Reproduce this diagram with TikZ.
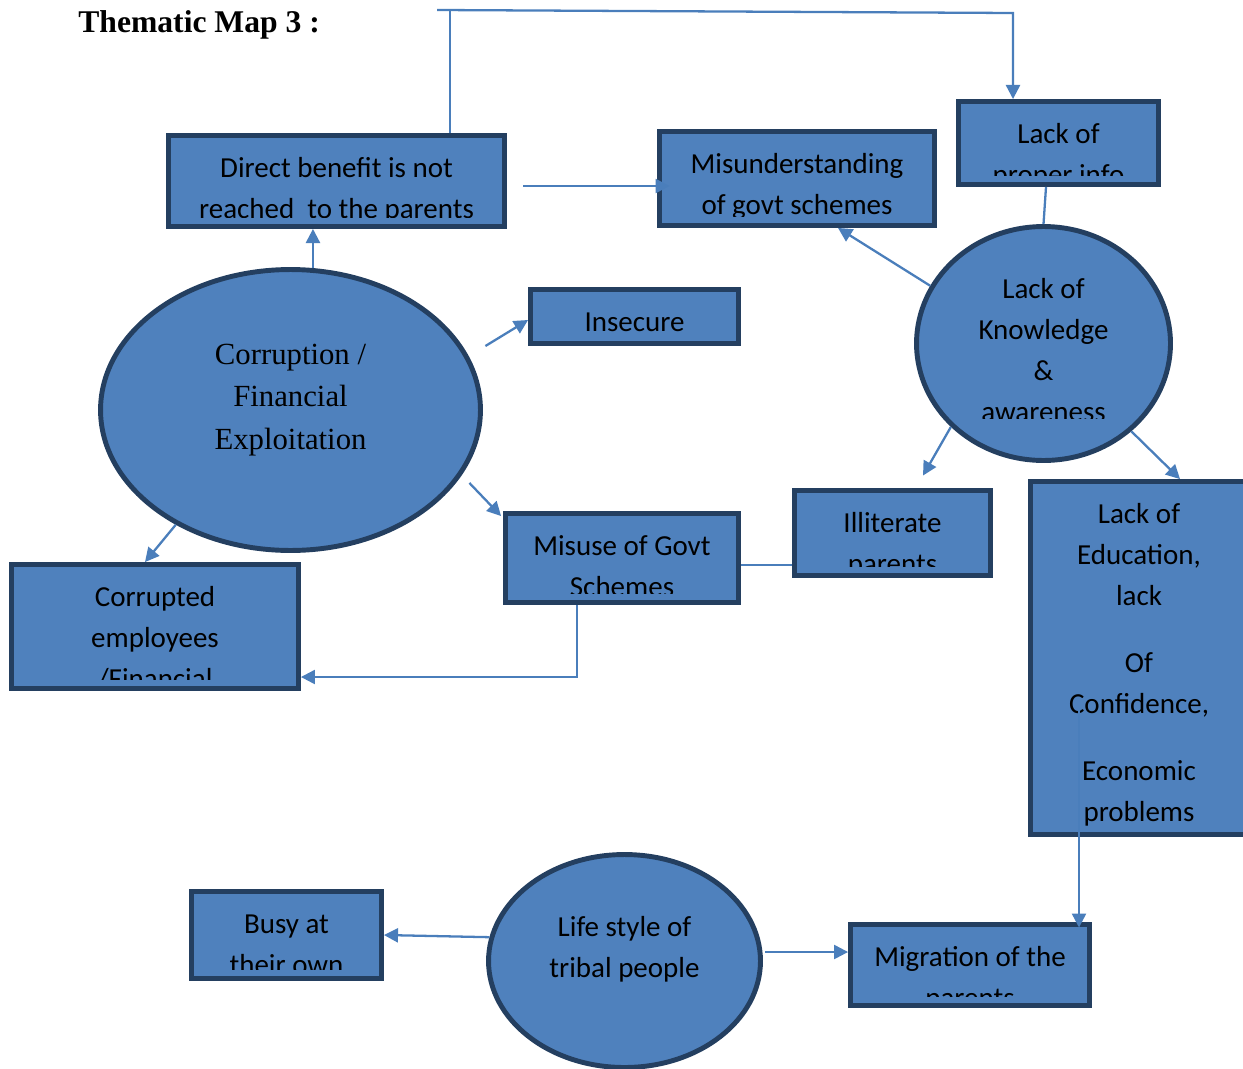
\documentclass[tikz,border=0pt]{standalone}
\usepackage{fontspec}
\setmainfont{Liberation Serif}
\newfontfamily\boxfont{Carlito}
\usetikzlibrary{arrows.meta,positioning,shapes.geometric,calc}
\definecolor{mapfill}{HTML}{4F81BD}
\definecolor{mapedge}{HTML}{243F60}
\definecolor{maplink}{HTML}{4A7EBB}

\begin{document}
\begin{tikzpicture}[
    x=0.02cm, y=-0.02cm,
    box/.style={rectangle, draw=mapedge, fill=mapfill, line width=2.8pt, inner sep=0pt},
    blob/.style={ellipse, draw=mapedge, fill=mapfill, line width=2.8pt, inner sep=0pt},
    words/.style={font=\fontsize{16.5}{23.3}\boxfont, align=center, anchor=north, inner sep=0pt},
    serifwords/.style={font=\fontsize{17.5}{24.2}\selectfont, align=center, anchor=north, inner sep=0pt},
    link/.style={line width=1.3pt, draw=maplink},
    arrow/.style={link, -{Triangle[length=8pt, width=8pt]}}
  ]
    \useasboundingbox (0,0) rectangle (1243,1068);
    \node[font=\fontsize{18}{22}\selectfont\bfseries, anchor=base west, inner sep=0pt] (title) at (78,33) {Thematic Map 3 :};

    % boxes
    \node[box, minimum width=6.72cm, minimum height=1.82cm] (direct) at (336.5,181) {};
    \node[box, minimum width=5.5cm, minimum height=1.88cm] (misread) at (797,178.5) {};
    \node[box, minimum width=4cm, minimum height=1.66cm] (info) at (1058.5,143) {};
    \node[box, minimum width=4.16cm, minimum height=1.08cm] (insecure) at (634.5,316.5) {};
    \node[box, minimum width=3.92cm, minimum height=1.7cm] (illiterate) at (892.5,533) {};
    \node[box, minimum width=4.66cm, minimum height=1.78cm] (misuse) at (622,558) {};
    \node[box, minimum width=5.74cm, minimum height=2.48cm] (corrupted) at (155,626.5) {};
    \node[box, minimum width=4.34cm, minimum height=7.06cm] (education) at (1139,658) {};
    \node[box, minimum width=3.8cm, minimum height=1.74cm] (busy) at (286.5,935) {};
    \node[box, minimum width=4.78cm, minimum height=1.62cm] (migration) at (970,965) {};

    % ellipses
    \node[blob, minimum width=7.6cm, minimum height=5.62cm] (corruption) at (290.5,410) {};
    \node[blob, minimum width=5.08cm, minimum height=4.68cm] (knowledge) at (1043.5,343.5) {};
    \node[blob, minimum width=5.44cm, minimum height=4.26cm] (lifestyle) at (624.5,961) {};

    % box texts, cut off near the bottom edge
    \foreach \n/\t in {{direct/{Direct benefit is not\\reached~ to the parents}},
                       misread/{Misunderstanding\\of govt schemes},
                       info/{Lack of\\proper info},
                       insecure/Insecure,
                       illiterate/{Illiterate\\parents},
                       misuse/{Misuse of Govt\\Schemes},
                       corrupted/{Corrupted\\employees\\/Financial},
                       {education/{Lack of\\Education,\\lack\\[14.8pt]Of\\Confidence,\\[14.8pt]Economic\\problems}},
                       busy/{Busy at\\their own},
                       migration/{Migration of the\\parents}}{
      \begin{scope}
        \clip ([yshift=0.22cm]\n.south west) rectangle (\n.north east);
        \node[words] (\n-text) at ([yshift=-0.306cm]\n.north) {\strut\t};
      \end{scope}
    }

    % ellipse texts
    \node[serifwords] (corruption-text) at ([yshift=-1.344cm]corruption.north) {\strut Corruption /\\Financial\\Exploitation};
    \begin{scope}
      \clip ([xshift=-2.6cm]knowledge.north) rectangle ([xshift=2.6cm, yshift=0.89cm]knowledge.south);
      \node[words] (knowledge-text) at ([yshift=-0.906cm]knowledge.north) {\strut Lack of\\Knowledge\\\&\\awareness};
    \end{scope}
    \node[words] (lifestyle-text) at ([yshift=-1.106cm]lifestyle.north) {\strut Life style of\\tribal people};

    % connectors
    \draw[arrow] (corruption.81) -- (corruption.81 |- direct.south);
    \draw[arrow, shorten >=-0.25cm] ($(direct.east)+(16.5,5)$) coordinate (d1) -- (d1 -| misread.west);
    \coordinate (loopleft) at (437,10);
    \coordinate (loopright) at (1013,13);
    \draw[link] ($(direct.north)+(113.5,0)$) coordinate (up) -- (up |- loopleft);
    \draw[arrow] (loopleft) -- (loopright) -- (loopright |- info.north);
    \draw[link] ($(info.south)+(-12.5,0)$) -- (knowledge.north);
    \draw[arrow] (knowledge.153) -- ($(misread.south)+(41,0)$);
    \draw[arrow] ($(corruption.east)+(2.5,-64)$) -- ($(insecure.west)+(0,3.5)$);
    \draw[arrow] ($(corruption.east)+(-13.5,73)$) -- ($(misuse.north west)+(-2,5)$);
    \draw[arrow] (corruption.225) -- ($(corrupted.north)+(-10,0)$);
    \draw[arrow] (knowledge.222) -- ($(illiterate.north)+(30.5,-12.5)$);
    \draw[arrow] (knowledge.315) -- ($(education.north)+(41,0)$);
    \coordinate (joint) at ($(misuse.east)+(0,7)$);
    \draw[link] (joint) -- (joint -| illiterate.west);
    \draw[arrow] ($(misuse.south)+(-45,0)$) |- ($(corrupted.east)+(0,50.5)$);
    \draw[arrow, shorten >=-0.11cm] ($(education.center)+(-60,52)$) coordinate (drop) -- (drop |- migration.north);
    \draw[arrow] (lifestyle.170) -- (busy.east);
    \draw[arrow] ($(lifestyle.east)+(2.5,-9)$) coordinate (side) -- (side -| migration.west);
\end{tikzpicture}
\end{document}
